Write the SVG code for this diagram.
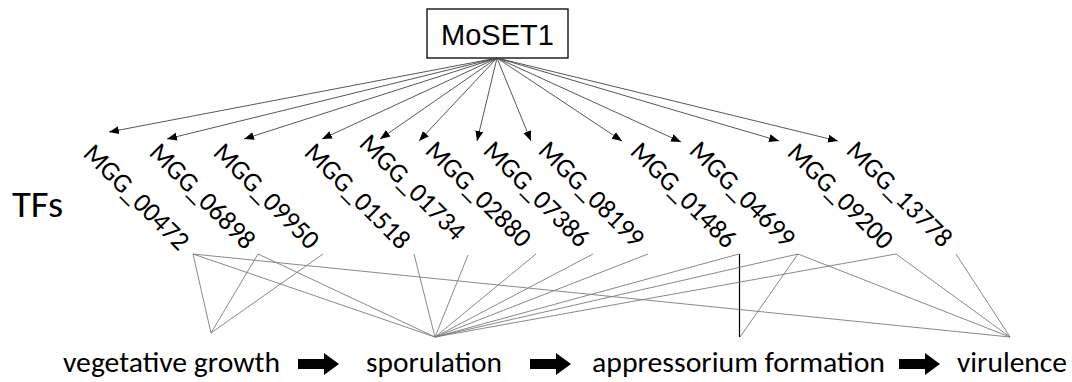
<svg xmlns="http://www.w3.org/2000/svg" width="1072" height="382" viewBox="0 0 1072 382">
<style>
.lbl{font-family:Calibri,Carlito,Lato,"Open Sans",sans-serif;font-size:27px;fill:#000}
.big{font-family:Calibri,Carlito,Lato,"Open Sans",sans-serif;font-size:28.5px;fill:#000}
.ttl{font-family:Calibri,Carlito,Lato,"Open Sans",sans-serif;font-size:37px;fill:#000}
.arr{stroke:#444;stroke-width:0.9;fill:none;marker-end:url(#ah)}
.ln{stroke:#7a7a7a;stroke-width:0.9;fill:none}
</style>
<defs>
<marker id="ah" markerUnits="userSpaceOnUse" markerWidth="11" markerHeight="9" refX="10" refY="4" orient="auto">
<path d="M0,0 L10,4 L0,8 z" fill="#000"/>
</marker>
<path id="fat" d="M0,359 L26,359 L26,353 L41,364 L26,375 L26,369 L0,369 z" fill="#000"/>
</defs>
<rect width="1072" height="382" fill="#fff"/>
<g id="moset1">
<rect x="427" y="9" width="141" height="49" fill="#fff" stroke="#000" stroke-width="1.3"/>
<text x="497.5" y="45" text-anchor="middle" font-family="'Liberation Sans',Arial,sans-serif" font-size="29">MoSET1</text>
</g>
<g id="tfs-title"><text class="ttl" x="12" y="217" textLength="51" lengthAdjust="spacingAndGlyphs">TFs</text></g>
<g id="edges-top">
<line class="arr" x1="497" y1="58" x2="109" y2="132"/>
<line class="arr" x1="497" y1="58" x2="167" y2="139"/>
<line class="arr" x1="497" y1="58" x2="244" y2="139"/>
<line class="arr" x1="497" y1="58" x2="322" y2="139"/>
<line class="arr" x1="497" y1="58" x2="380" y2="139"/>
<line class="arr" x1="497" y1="58" x2="419" y2="141"/>
<line class="arr" x1="497" y1="58" x2="477" y2="141"/>
<line class="arr" x1="497" y1="58" x2="531" y2="141"/>
<line class="arr" x1="497" y1="58" x2="622" y2="141"/>
<line class="arr" x1="497" y1="58" x2="681" y2="142"/>
<line class="arr" x1="497" y1="58" x2="779" y2="141"/>
<line class="arr" x1="497" y1="58" x2="838" y2="141"/>
</g>
<g id="tf-labels">
<g id="MGG_00472"><text class="lbl" transform="translate(82,155) rotate(45)" textLength="137" lengthAdjust="spacingAndGlyphs">MGG_00472</text></g>
<g id="MGG_06898"><text class="lbl" transform="translate(148,154) rotate(45)" textLength="137" lengthAdjust="spacingAndGlyphs">MGG_06898</text></g>
<g id="MGG_09950"><text class="lbl" transform="translate(212,154) rotate(45)" textLength="137" lengthAdjust="spacingAndGlyphs">MGG_09950</text></g>
<g id="MGG_01518"><text class="lbl" transform="translate(303,154) rotate(45)" textLength="137" lengthAdjust="spacingAndGlyphs">MGG_01518</text></g>
<g id="MGG_01734"><text class="lbl" transform="translate(358,145) rotate(45)" textLength="137" lengthAdjust="spacingAndGlyphs">MGG_01734</text></g>
<g id="MGG_02880"><text class="lbl" transform="translate(424,152) rotate(45)" textLength="137" lengthAdjust="spacingAndGlyphs">MGG_02880</text></g>
<g id="MGG_07386"><text class="lbl" transform="translate(482,152) rotate(45)" textLength="137" lengthAdjust="spacingAndGlyphs">MGG_07386</text></g>
<g id="MGG_08199"><text class="lbl" transform="translate(537,152) rotate(45)" textLength="137" lengthAdjust="spacingAndGlyphs">MGG_08199</text></g>
<g id="MGG_01486"><text class="lbl" transform="translate(629,153) rotate(45)" textLength="137" lengthAdjust="spacingAndGlyphs">MGG_01486</text></g>
<g id="MGG_04699"><text class="lbl" transform="translate(688,152) rotate(45)" textLength="137" lengthAdjust="spacingAndGlyphs">MGG_04699</text></g>
<g id="MGG_09200"><text class="lbl" transform="translate(786,154) rotate(45)" textLength="137" lengthAdjust="spacingAndGlyphs">MGG_09200</text></g>
<g id="MGG_13778"><text class="lbl" transform="translate(845,152) rotate(45)" textLength="137" lengthAdjust="spacingAndGlyphs">MGG_13778</text></g>
</g>
<g id="edges-bottom">
<line class="ln" x1="193" y1="254" x2="211" y2="333"/>
<line class="ln" x1="193" y1="254" x2="435" y2="337"/>
<line class="ln" x1="193" y1="254" x2="1010" y2="337"/>
<line class="ln" x1="258" y1="254" x2="211" y2="333"/>
<line class="ln" x1="258" y1="254" x2="435" y2="337"/>
<line class="ln" x1="323" y1="254" x2="211" y2="333"/>
<line class="ln" x1="414" y1="254" x2="435" y2="337"/>
<line class="ln" x1="468" y1="255" x2="435" y2="337"/>
<line class="ln" x1="536" y1="254" x2="435" y2="337"/>
<line class="ln" x1="593" y1="254" x2="435" y2="337"/>
<line class="ln" x1="648" y1="254" x2="435" y2="337"/>
<line class="ln" x1="739" y1="254" x2="435" y2="337"/>
<line x1="739.5" y1="254" x2="739.5" y2="337" stroke="#000" stroke-width="1.2"/>
<line class="ln" x1="798" y1="254" x2="435" y2="337"/>
<line class="ln" x1="798" y1="254" x2="740" y2="337"/>
<line class="ln" x1="798" y1="254" x2="1010" y2="337"/>
<line class="ln" x1="896" y1="254" x2="435" y2="337"/>
<line class="ln" x1="896" y1="254" x2="1010" y2="337"/>
<line class="ln" x1="956" y1="254" x2="1010" y2="337"/>
</g>
<g id="stages">
<g id="vegetative"><text class="big" x="63" y="372" textLength="217" lengthAdjust="spacingAndGlyphs">vegetative growth</text></g>
<g id="sporulation"><text class="big" x="366" y="372" textLength="136" lengthAdjust="spacingAndGlyphs">sporulation</text></g>
<g id="appressorium"><text class="big" x="592" y="372" textLength="293" lengthAdjust="spacingAndGlyphs">appressorium formation</text></g>
<g id="virulence"><text class="big" x="957" y="372" textLength="110" lengthAdjust="spacingAndGlyphs">virulence</text></g>
</g>
<g id="stage-arrows">
<use href="#fat" transform="translate(298,0)"/>
<use href="#fat" transform="translate(530,0)"/>
<use href="#fat" transform="translate(899,0)"/>
</g>
</svg>
